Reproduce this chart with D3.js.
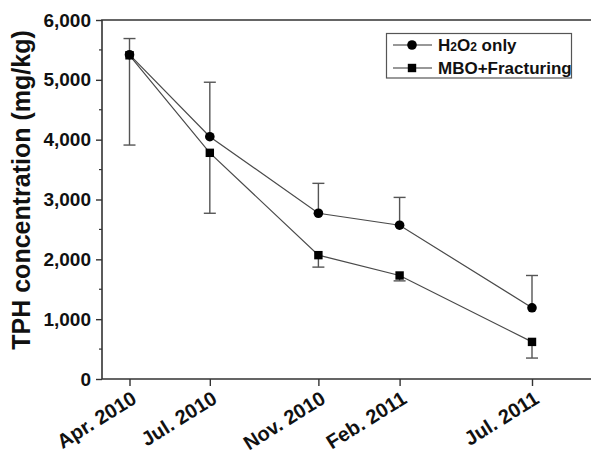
<!DOCTYPE html>
<html>
<head>
<meta charset="utf-8">
<script src="https://cdn.jsdelivr.net/npm/d3@7"></script>
<style>
  body { margin: 0; background: #fff; }
  text { font-family: "Liberation Sans", Arial, sans-serif; font-weight: bold; }
</style>
</head>
<body>
<div id="chart"></div>
<script>
// data
const dates = ["2010-04-01", "2010-07-01", "2010-11-01", "2011-02-01", "2011-07-01"];
const dateLabels = ["Apr. 2010", "Jul. 2010", "Nov. 2010", "Feb. 2011", "Jul. 2011"];
const h2o2 = [5420, 4050, 2770, 2570, 1190];
const h2o2Up = [5690, 4960, 3270, 3035, 1730];       // error bar tops
const mbo = [5410, 3780, 2070, 1730, 620];
const mboDown = [3910, 2770, 1870, 1640, 350];      // error bar bottoms
const yTicks = [0, 1000, 2000, 3000, 4000, 5000, 6000];

const width = 591, height = 457;
const plotLeft = 102, plotTop = 20, plotBottom = 379;

const parse = d3.timeParse("%Y-%m-%d");
const dd = dates.map(parse);

const x = d3.scaleTime()
    .domain([dd[0], dd[dd.length - 1]])
    .range([129.5, 532]);
const y = d3.scaleLinear()
    .domain([0, 6000])
    .range([plotBottom, plotTop]);

const svg = d3.select("#chart")
    .append("svg")
    .attr("width", width)
    .attr("height", height);

// frame (right side is cut off in the original)
svg.append("path")
    .attr("d", `M${width + 10},${plotTop}H${plotLeft}V${plotBottom}H${width + 10}`)
    .attr("fill", "none")
    .attr("stroke", "#333")
    .attr("stroke-width", 1.6);

// y axis
const yAxis = svg.append("g")
    .attr("transform", `translate(${plotLeft},0)`)
    .call(d3.axisLeft(y).tickValues(yTicks).tickSize(6).tickPadding(5).tickFormat(d3.format(",")));
yAxis.select(".domain").remove();
yAxis.selectAll("line").attr("stroke", "#333").attr("stroke-width", 1.4);
yAxis.selectAll("text").attr("font-size", 19).attr("fill", "#111")
    .style("font-family", "Liberation Sans, Arial, sans-serif").style("font-weight", "bold");

// minor ticks
svg.append("g").selectAll("line")
    .data(d3.range(500, 6000, 1000))
    .enter().append("line")
    .attr("x1", plotLeft - 3).attr("x2", plotLeft)
    .attr("y1", d => y(d)).attr("y2", d => y(d))
    .attr("stroke", "#333").attr("stroke-width", 1.2);

// x axis
const xAxis = svg.append("g")
    .attr("transform", `translate(0,${plotBottom})`)
    .call(d3.axisBottom(x).tickValues(dd).tickSize(7).tickFormat((d, i) => dateLabels[i]));
xAxis.select(".domain").remove();
xAxis.selectAll("line").attr("stroke", "#333").attr("stroke-width", 1.4);
xAxis.selectAll("text")
    .attr("font-size", 20).attr("fill", "#111")
    .style("font-family", "Liberation Sans, Arial, sans-serif").style("font-weight", "bold")
    .attr("text-anchor", "end")
    .attr("y", 0)
    .attr("dy", 0)
    .attr("transform", "translate(8,23) rotate(-32)");

// y title
svg.append("text")
    .attr("transform", "translate(30,190) rotate(-90)")
    .attr("text-anchor", "middle")
    .attr("font-size", 25)
    .attr("fill", "#111")
    .text("TPH concentration (mg/kg)");

// error bars
const cap = 6;
function errBars(vals, ends) {
    const g = svg.append("g").attr("stroke", "#555").attr("stroke-width", 1.4);
    vals.forEach((v, i) => {
        const cx = x(dd[i]);
        g.append("line").attr("x1", cx).attr("x2", cx).attr("y1", y(v)).attr("y2", y(ends[i]));
        g.append("line").attr("x1", cx - cap).attr("x2", cx + cap).attr("y1", y(ends[i])).attr("y2", y(ends[i]));
    });
}
errBars(h2o2, h2o2Up);
errBars(mbo, mboDown);

// lines
const line = d3.line().x((d, i) => x(dd[i])).y(d => y(d));
[h2o2, mbo].forEach(s => {
    svg.append("path")
        .datum(s)
        .attr("d", line)
        .attr("fill", "none")
        .attr("stroke", "#4a4a4a")
        .attr("stroke-width", 1.2);
});

// markers
svg.append("g").selectAll("circle")
    .data(h2o2)
    .enter().append("circle")
    .attr("cx", (d, i) => x(dd[i]))
    .attr("cy", d => y(d))
    .attr("r", 4.8)
    .attr("fill", "#000");

svg.append("g").selectAll("rect")
    .data(mbo)
    .enter().append("rect")
    .attr("x", (d, i) => x(dd[i]) - 4.2)
    .attr("y", d => y(d) - 4.2)
    .attr("width", 8.4)
    .attr("height", 8.4)
    .attr("fill", "#000");

// legend
const lg = svg.append("g");
lg.append("rect")
    .attr("x", 386.5).attr("y", 33.5)
    .attr("width", 185).attr("height", 44.5)
    .attr("fill", "#fff").attr("stroke", "#555").attr("stroke-width", 1.2);

const rows = [45, 68];
rows.forEach((ry, i) => {
    lg.append("line").attr("x1", 393).attr("x2", 432).attr("y1", ry).attr("y2", ry)
        .attr("stroke", "#333").attr("stroke-width", 1.2);
    if (i === 0) {
        lg.append("circle").attr("cx", 412).attr("cy", ry).attr("r", 4.8).attr("fill", "#000");
    } else {
        lg.append("rect").attr("x", 412 - 4.2).attr("y", ry - 4.2).attr("width", 8.4).attr("height", 8.4).attr("fill", "#000");
    }
});

const t1 = lg.append("text").attr("x", 438).attr("y", rows[0] + 6).attr("font-size", 17).attr("fill", "#111");
t1.append("tspan").text("H");
t1.append("tspan").attr("font-size", 12).text("2");
t1.append("tspan").text("O");
t1.append("tspan").attr("font-size", 12).text("2");
t1.append("tspan").text(" only");

lg.append("text").attr("x", 438).attr("y", rows[1] + 6).attr("font-size", 17).attr("fill", "#111")
    .text("MBO+Fracturing");
</script>
</body>
</html>
